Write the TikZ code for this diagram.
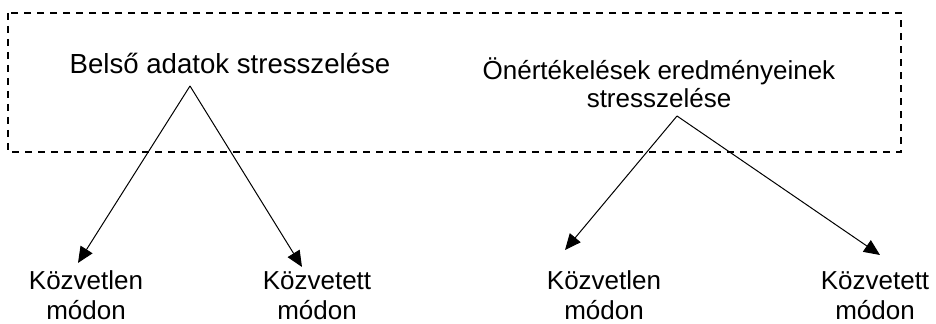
\documentclass[tikz,border=0pt]{standalone}
\usepackage{fontspec}
\setmainfont{Liberation Sans}
\usetikzlibrary{arrows.meta}

\begin{document}
\begin{tikzpicture}[x=0.5pt,y=-0.5pt,
  lbl/.style={font=\fontsize{13}{15}\selectfont,inner sep=0,align=center,anchor=base},
  arr/.style={-{Triangle[length=8pt,width=7pt]},line width=0.5pt}]
\useasboundingbox (0,0) rectangle (936,324);
\draw[line width=1.4pt,dash pattern=on 3.5pt off 3pt] (8,13) rectangle (901,152);
% upper labels
\node[lbl,font=\fontsize{13.8}{15}\selectfont] (belso) at (230,74) {Belső adatok stresszelése};
\node[lbl,font=\fontsize{13}{14}\selectfont] (onert) at (659,108) {Önértékelések eredményeinek\\stresszelése};
% lower labels
\node[lbl] (kozvetlenA) at (86,320) {Közvetlen\\módon};
\node[lbl] (kozvetettA) at (317,320) {Közvetett\\módon};
\node[lbl] (kozvetlenB) at (604,320) {Közvetlen\\módon};
\node[lbl] (kozvetettB) at (875,320) {Közvetett\\módon};
% arrow ends
\coordinate (belsoS) at (190,86);
\coordinate (onertS) at (677,116);
\coordinate (kozvetlenAN) at (78,263);
\coordinate (kozvetettAN) at (302,267);
\coordinate (kozvetlenBN) at (565,250);
\coordinate (kozvetettBN) at (880,255);
\draw[arr] (belsoS) -- (kozvetlenAN);
\draw[arr] (belsoS) -- (kozvetettAN);
\draw[arr] (onertS) -- (kozvetlenBN);
\draw[arr] (onertS) -- (kozvetettBN);
\end{tikzpicture}
\end{document}
